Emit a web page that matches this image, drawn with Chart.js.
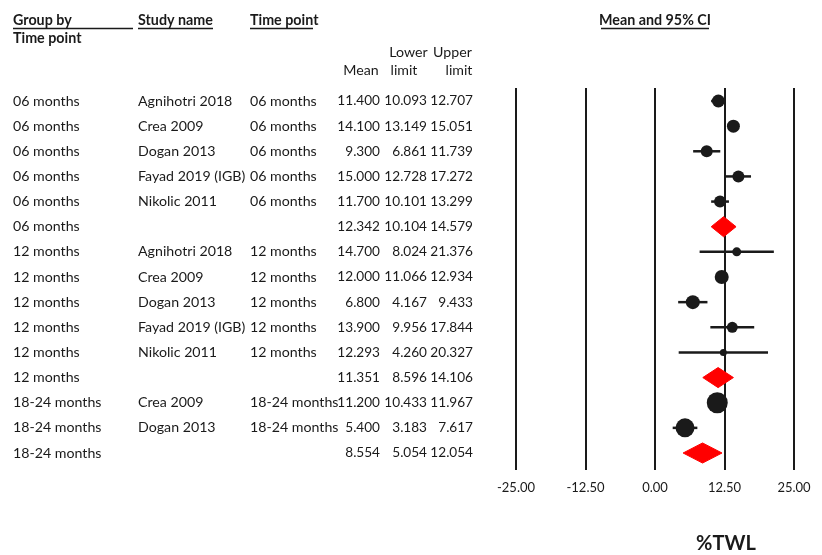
<!DOCTYPE html>
<html>
<head>
<meta charset="utf-8">
<script src="https://cdn.jsdelivr.net/npm/chart.js@4/dist/chart.umd.min.js"></script>
<style>
  html, body { margin: 0; padding: 0; background: #ffffff; }
  #wrap { width: 822px; height: 555px; position: relative; }
</style>
</head>
<body>
<div id="wrap"><canvas id="forest" width="822" height="555"></canvas></div>
<script>
// ---- Data: %TWL by time point (mean and 95% CI) ----
const groupLabels = ['06 months','06 months','06 months','06 months','06 months','06 months',
  '12 months','12 months','12 months','12 months','12 months','12 months',
  '18-24 months','18-24 months','18-24 months'];
const studyNames = ['Agnihotri 2018','Crea 2009','Dogan 2013','Fayad 2019 (IGB)','Nikolic 2011','',
  'Agnihotri 2018','Crea 2009','Dogan 2013','Fayad 2019 (IGB)','Nikolic 2011','',
  'Crea 2009','Dogan 2013',''];
const timePoints = ['06 months','06 months','06 months','06 months','06 months','',
  '12 months','12 months','12 months','12 months','12 months','',
  '18-24 months','18-24 months',''];
const means = [11.400,14.100,9.300,15.000,11.700,12.342,14.700,12.000,6.800,13.900,12.293,11.351,11.200,5.400,8.554];
const lowerLimits = [10.093,13.149,6.861,12.728,10.101,10.104,8.024,11.066,4.167,9.956,4.260,8.596,10.433,3.183,5.054];
const upperLimits = [12.707,15.051,11.739,17.272,13.299,14.579,21.376,12.934,9.433,17.844,20.327,14.106,11.967,7.617,12.054];
const isSummary = [false,false,false,false,false,true,false,false,false,false,false,true,false,false,true];
const xTicks = [-25, -12.5, 0, 12.5, 25];

// study marker size reflects relative weight
const markerRadius = [6.5,6.5,6,6,6,0,4.5,7,7,5.5,3.5,0,10.5,9.5,0];

const FONT = 'Lato, "Open Sans", sans-serif';
const INK = '#1a1a1a';

const rows = means.map((m, i) => ({ row: i + 1, mean: m, lo: lowerLimits[i], hi: upperLimits[i] }));

const datasets = [];
// confidence-interval whiskers for individual studies
rows.forEach((r, i) => {
  if (isSummary[i]) return;
  datasets.push({
    type: 'line',
    data: [{ x: r.lo, y: r.row }, { x: r.hi, y: r.row }],
    borderColor: INK, borderWidth: 2.5, pointRadius: 0, fill: false, order: 2
  });
});
// study point estimates
datasets.push({
  type: 'scatter',
  data: rows.filter((r, i) => !isSummary[i]).map(r => ({ x: r.mean, y: r.row })),
  pointRadius: markerRadius.filter((r, i) => !isSummary[i]),
  pointBackgroundColor: INK, pointBorderColor: INK, pointBorderWidth: 0, order: 1
});
// pooled estimates as diamonds spanning the CI
const DIAMOND_HALF = 0.4;
rows.forEach((r, i) => {
  if (!isSummary[i]) return;
  datasets.push({
    type: 'line',
    data: [
      { x: r.lo, y: r.row }, { x: r.mean, y: r.row - DIAMOND_HALF },
      { x: r.hi, y: r.row }, { x: r.mean, y: r.row + DIAMOND_HALF },
      { x: r.lo, y: r.row }
    ],
    borderColor: '#ff0000', backgroundColor: '#ff0000', borderWidth: 1,
    pointRadius: 0, fill: 'shape', tension: 0, order: 0
  });
});

// table columns and headings drawn against the y scale rows
const tablePlugin = {
  id: 'forestTable',
  afterDraw(chart) {
    const ctx = chart.ctx;
    const ys = chart.scales.y;
    ctx.save();
    ctx.fillStyle = INK;
    ctx.textBaseline = 'middle';

    // headings
    ctx.font = 'bold 14.3px ' + FONT;
    ctx.textAlign = 'left';
    ctx.fillText('Group by', 13, 20);
    ctx.fillText('Time point', 13, 38);
    ctx.fillText('Study name', 138, 20);
    ctx.fillText('Time point', 250, 20);
    ctx.textAlign = 'center';
    ctx.fillText('Mean and 95% CI', 655, 20);
    ctx.strokeStyle = INK;
    ctx.lineWidth = 1.3;
    ctx.beginPath();
    [[13, 133], [138, 213], [250, 313], [601, 709]].forEach(([a, b]) => {
      ctx.moveTo(a, 28.5); ctx.lineTo(b, 28.5);
    });
    ctx.stroke();

    ctx.font = '14.2px ' + FONT;
    ctx.textAlign = 'center';
    ctx.fillText('Lower', 408.5, 52);
    ctx.fillText('Upper', 452.5, 52);
    ctx.fillText('Mean', 361, 70);
    ctx.fillText('limit', 404, 70);
    ctx.fillText('limit', 459, 70);

    // rows
    rows.forEach((r, i) => {
      const y = ys.getPixelForValue(r.row);
      ctx.font = '14.2px ' + FONT;
      ctx.textAlign = 'left';
      ctx.fillText(groupLabels[i], 13, y);
      if (studyNames[i]) ctx.fillText(studyNames[i], 138, y);
      if (timePoints[i]) ctx.fillText(timePoints[i], 250, y);
      ctx.font = '13.6px ' + FONT;
      ctx.textAlign = 'right';
      ctx.fillText(r.mean.toFixed(3), 380, y);
      ctx.fillText(r.lo.toFixed(3), 427, y);
      ctx.fillText(r.hi.toFixed(3), 473, y);
    });

    // axis caption
    ctx.font = 'bold 20px ' + FONT;
    ctx.textAlign = 'center';
    ctx.fillText('%TWL', 726, 544);
    ctx.restore();
  }
};

new Chart(document.getElementById('forest'), {
  type: 'scatter',
  data: { datasets },
  options: {
    responsive: false,
    animation: false,
    events: [],
    layout: { padding: { left: 516, right: 28, top: 88, bottom: 60 } },
    plugins: { legend: { display: false }, tooltip: { enabled: false } },
    scales: {
      x: {
        type: 'linear', min: -25, max: 25,
        afterBuildTicks: s => { s.ticks = xTicks.map(v => ({ value: v })); },
        afterFit: s => { s.height = 25; },
        grid: { color: INK, lineWidth: 2, drawTicks: false },
        border: { display: false },
        ticks: {
          padding: 10, color: INK, font: { family: FONT, size: 13 },
          callback: v => v.toFixed(2)
        }
      },
      y: {
        type: 'linear', min: 0.483, max: 15.676, reverse: true, display: false
      }
    }
  },
  plugins: [tablePlugin]
});
</script>
</body>
</html>
